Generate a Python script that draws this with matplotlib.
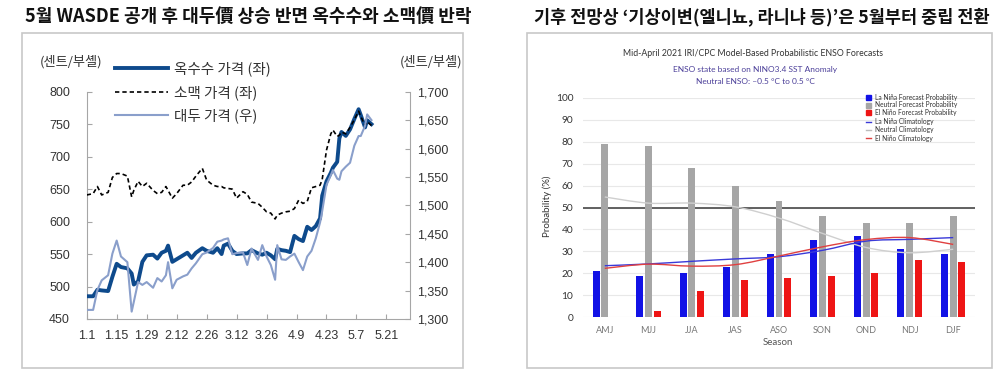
import numpy as np
import pandas as pd
import matplotlib
matplotlib.use("Agg")
import matplotlib.pyplot as plt
from matplotlib.patches import Rectangle, PathPatch, Patch
from matplotlib.lines import Line2D
from matplotlib.path import Path

plt.rcParams["font.family"] = ["Liberation Sans", "Noto Sans CJK KR", "DejaVu Sans"]
plt.rcParams["axes.unicode_minus"] = False

KR = ["Noto Sans CJK KR", "DejaVu Sans"]
EN = ["Lato", "DejaVu Sans"]

# =============================================================================
# Data - left panel (grain prices, cents/bushel)
# =============================================================================
dates = ["1.1", "1.4", "1.6", "1.8", "1.11", "1.13", "1.15", "1.17", "1.20", "1.22",
         "1.23", "1.25", "1.27", "1.29", "2.1", "2.3", "2.5", "2.7", "2.8", "2.10",
         "2.12", "2.15", "2.17", "2.19", "2.21", "2.24", "2.26", "3.1", "3.3", "3.5",
         "3.6", "3.8", "3.10", "3.12", "3.15", "3.17", "3.19", "3.22", "3.24", "3.26",
         "3.28", "3.30", "3.31", "4.2", "4.4", "4.6", "4.8", "4.10", "4.12", "4.14",
         "4.16", "4.18", "4.20", "4.21", "4.23", "4.25", "4.26", "4.28", "4.29", "4.30",
         "5.2", "5.4", "5.6", "5.8", "5.9", "5.11", "5.12", "5.14"]

corn = [485, 485, 495, 494, 493, 515, 535, 530, 528, 520,
        503, 508, 538, 548, 549, 543, 552, 555, 563, 538,
        542, 548, 552, 544, 552, 559, 555, 552, 559, 550,
        563, 566, 555, 550, 551, 551, 556, 551, 549, 552,
        548, 542, 558, 556, 555, 553, 578, 573, 570, 592,
        587, 593, 605, 640, 662, 675, 683, 692, 728, 738,
        732, 742, 758, 773, 764, 745, 756, 750]

wheat = [641, 643, 654, 641, 645, 668, 674, 674, 670, 638,
         648, 662, 654, 659, 648, 643, 645, 654, 648, 636,
         643, 656, 656, 661, 670, 682, 664, 656, 654, 654,
         652, 651, 650, 636, 646, 642, 630, 628, 622, 615,
         613, 604, 610, 613, 615, 616, 620, 633, 628, 631,
         652, 654, 656, 665, 710, 735, 741, 731, 733, 738,
         735, 745, 757, 770, 762, 748, 754, 748]

soybean = [1316, 1316, 1351, 1368, 1377, 1415, 1438, 1410, 1400, 1313,
           1330, 1365, 1360, 1365, 1355, 1372, 1366, 1377, 1400, 1354,
           1369, 1375, 1378, 1389, 1398, 1414, 1417, 1425, 1436, 1438,
           1440, 1442, 1414, 1416, 1417, 1395, 1424, 1404, 1430, 1410,
           1395, 1369, 1430, 1405, 1404, 1410, 1415, 1400, 1386, 1410,
           1420, 1442, 1470, 1490, 1536, 1553, 1562, 1547, 1545, 1560,
           1568, 1575, 1605, 1622, 1622, 1640, 1660, 1650]

tick_dates = ["1.1", "1.15", "1.29", "2.12", "2.26", "3.12", "3.26", "4.9", "4.23", "5.7", "5.21"]
left_ticks = [450, 500, 550, 600, 650, 700, 750, 800]
right_ticks = [1300, 1350, 1400, 1450, 1500, 1550, 1600, 1650, 1700]

# =============================================================================
# Data - right panel (ENSO probabilities, %)
# =============================================================================
seasons = ["AMJ", "MJJ", "JJA", "JAS", "ASO", "SON", "OND", "NDJ", "DJF"]
lanina_prob = [21, 19, 20, 23, 29, 35, 37, 31, 29]
neutral_prob = [79, 78, 68, 60, 53, 46, 43, 43, 46]
elnino_prob = [0, 3, 12, 17, 18, 19, 20, 26, 25]
lanina_clim = [23.5, 24.3, 25.5, 26.6, 27.6, 30.5, 34.7, 35.5, 36.3]
neutral_clim = [54.8, 52.0, 52.0, 50.3, 45.2, 38.2, 31.8, 29.4, 31.0]
elnino_clim = [22.3, 24.2, 23.3, 24.0, 27.9, 32.1, 35.4, 36.3, 33.2]


def to_dt(labels):
    return pd.to_datetime(["2021." + d for d in labels], format="%Y.%m.%d")


def smooth_patch(xs, ys, **kw):
    pts = np.column_stack([xs, ys]).astype(float)
    n = len(pts)
    verts = [pts[0]]
    codes = [Path.MOVETO]
    for i in range(n - 1):
        p0 = pts[max(i - 1, 0)]
        p1 = pts[i]
        p2 = pts[i + 1]
        p3 = pts[min(i + 2, n - 1)]
        verts += [p1 + (p2 - p0) / 6, p2 - (p3 - p1) / 6, p2]
        codes += [Path.CURVE4] * 3
    return PathPatch(Path(verts, codes), fill=False, **kw)


fig = plt.figure(figsize=(10, 3.72), dpi=100, facecolor="white")

# panel frames
for x0, w in ((0.022, 0.441), (0.527, 0.465)):
    fig.add_artist(Rectangle((x0, 0.011), w, 0.9, transform=fig.transFigure,
                             fill=False, edgecolor="#c8c8c8", linewidth=1.2))

# titles
fig.text(0.248, 0.955, "5월 WASDE 공개 후 대두價 상승 반면 옥수수와 소맥價 반락",
         ha="center", va="center", fontsize=13.0, weight="bold", family=KR, color="#111")
fig.text(0.762, 0.955, "기후 전망상 ‘기상이변(엘니뇨, 라니냐 등)’은 5월부터 중립 전환",
         ha="center", va="center", fontsize=12.6, weight="bold", family=KR, color="#111")

# =============================================================================
# Left panel
# =============================================================================
x = to_dt(dates)
ax = fig.add_axes([0.0867, 0.1425, 0.3233, 0.611])
ax2 = ax.twinx()

l_corn, = ax.plot(x, corn, color="#0e4a8c", lw=2.8, solid_joinstyle="round", zorder=3)
l_wheat, = ax.plot(x, wheat, color="black", lw=1.2, ls=(0, (2.6, 1.8)), zorder=4)
l_soy, = ax2.plot(x, soybean, color="#8a9fcb", lw=1.5)

ax.set_ylim(450, 800)
ax2.set_ylim(1300, 1700)
ax.set_xlim(pd.Timestamp("2021-01-01"), pd.Timestamp("2021-06-01"))

ax.set_yticks(left_ticks)
ax2.set_yticks(right_ticks)
ax2.set_yticklabels([f"{v:,}" for v in right_ticks])
ax.set_xticks(to_dt(tick_dates))
ax.set_xticklabels(tick_dates)

spine_c = "#a6a6a6"
for s in ("top", "right"):
    ax.spines[s].set_visible(False)
for s in ("top", "left", "bottom"):
    ax2.spines[s].set_visible(False)
ax.spines["left"].set_color(spine_c)
ax.spines["bottom"].set_color(spine_c)
ax2.spines["right"].set_color(spine_c)

ax.tick_params(axis="y", direction="in", length=3.5, color=spine_c, pad=12,
               labelsize=9, labelcolor="#333")
ax.tick_params(axis="x", direction="in", length=3.5, color=spine_c, pad=8,
               labelsize=9, labelcolor="#333")
ax2.tick_params(axis="y", direction="in", length=3.5, color=spine_c, pad=5,
                labelsize=9, labelcolor="#333")

fig.text(0.0715, 0.833, "(센트/부셸)", ha="center", va="center", fontsize=9.5,
         family=KR, color="#333")
fig.text(0.431, 0.833, "(센트/부셸)", ha="center", va="center", fontsize=9.5,
         family=KR, color="#333")

ax.legend([l_corn, l_wheat, l_soy], ["옥수수 가격 (좌)", "소맥 가격 (좌)", "대두 가격 (우)"],
          loc="upper left", bbox_to_anchor=(0.115, 0.834), bbox_transform=fig.transFigure,
          frameon=False, prop={"family": KR, "size": 10.5}, labelcolor="#333",
          handlelength=3.6, handletextpad=0.45, labelspacing=0.58,
          borderpad=0, borderaxespad=0)

# =============================================================================
# Right panel
# =============================================================================
axr = fig.add_axes([0.583, 0.147, 0.392, 0.5903])
pos = np.arange(len(seasons))
bw = 0.16
axr.bar(pos - 0.2, lanina_prob, width=bw, color="#1212e6", zorder=2)
axr.bar(pos, neutral_prob, width=bw, color="#a6a6a6", zorder=2)
axr.bar(pos + 0.2, elnino_prob, width=bw, color="#ee1515", zorder=2)

axr.axhline(50, color="#555555", lw=1.3, zorder=1.5)
axr.add_patch(smooth_patch(pos, neutral_clim, edgecolor="#cfcfcf", lw=1.0, zorder=3))
axr.add_patch(smooth_patch(pos, lanina_clim, edgecolor="#3a3ad8", lw=1.0, zorder=3))
axr.add_patch(smooth_patch(pos, elnino_clim, edgecolor="#e04040", lw=1.0, zorder=3))

axr.set_xlim(-0.5, len(seasons) - 0.5)
axr.set_ylim(0, 100)
axr.set_yticks(range(0, 101, 10))
axr.set_xticks(pos)
axr.set_xticklabels(seasons)
axr.yaxis.grid(True, color="#e8e8e8", lw=0.8)
axr.set_axisbelow(True)
for s in axr.spines.values():
    s.set_visible(False)
axr.tick_params(axis="y", length=0, pad=7, labelsize=7.3, labelcolor="#333")
axr.tick_params(axis="x", length=0, pad=6, labelsize=6.5, labelcolor="#777")
for lab in axr.get_xticklabels() + axr.get_yticklabels():
    lab.set_family(EN)

fig.text(0.753, 0.855, "Mid-April 2021 IRI/CPC Model-Based Probabilistic ENSO Forecasts",
         ha="center", va="center", fontsize=6.3, color="#333", family=EN)
fig.text(0.755, 0.8145, "ENSO state based on NINO3.4 SST Anomaly",
         ha="center", va="center", fontsize=6, color="#4b3f99", family=EN)
fig.text(0.755, 0.7796, "Neutral ENSO: –0.5 °C to 0.5 °C",
         ha="center", va="center", fontsize=6, color="#4b3f99", family=EN)
fig.text(0.778, 0.078, "Season", ha="center", va="center", fontsize=7,
         color="#555", family=EN)
fig.text(0.547, 0.445, "Probability (%)", ha="center", va="center", fontsize=7,
         color="#333", rotation=90, family=EN)

bar_handles = [Patch(color="#1212e6"), Patch(color="#a6a6a6"), Patch(color="#ee1515")]
leg1 = axr.legend(bar_handles, ["La Niña Forecast Probability", "Neutral Forecast Probability",
                                "El Niño Forecast Probability"],
                  loc="upper left", bbox_to_anchor=(0.866, 0.748), bbox_transform=fig.transFigure,
                  frameon=False, prop={"family": EN, "size": 4.8}, labelcolor="#333",
                  handlelength=0.8, handleheight=0.8, handletextpad=0.5, labelspacing=0.1,
                  borderpad=0, borderaxespad=0)
axr.add_artist(leg1)
line_handles = [Line2D([], [], color="#3a3ad8", lw=1), Line2D([], [], color="#bbbbbb", lw=1),
                Line2D([], [], color="#e04040", lw=1)]
axr.legend(line_handles, ["La Niña Climatology", "Neutral Climatology", "El Niño Climatology"],
           loc="upper left", bbox_to_anchor=(0.866, 0.683), bbox_transform=fig.transFigure,
           frameon=False, prop={"family": EN, "size": 4.8}, labelcolor="#333",
           handlelength=0.8, handletextpad=0.5, labelspacing=0.2,
           borderpad=0, borderaxespad=0)

fig.savefig("out.png", dpi=100, facecolor="white")
